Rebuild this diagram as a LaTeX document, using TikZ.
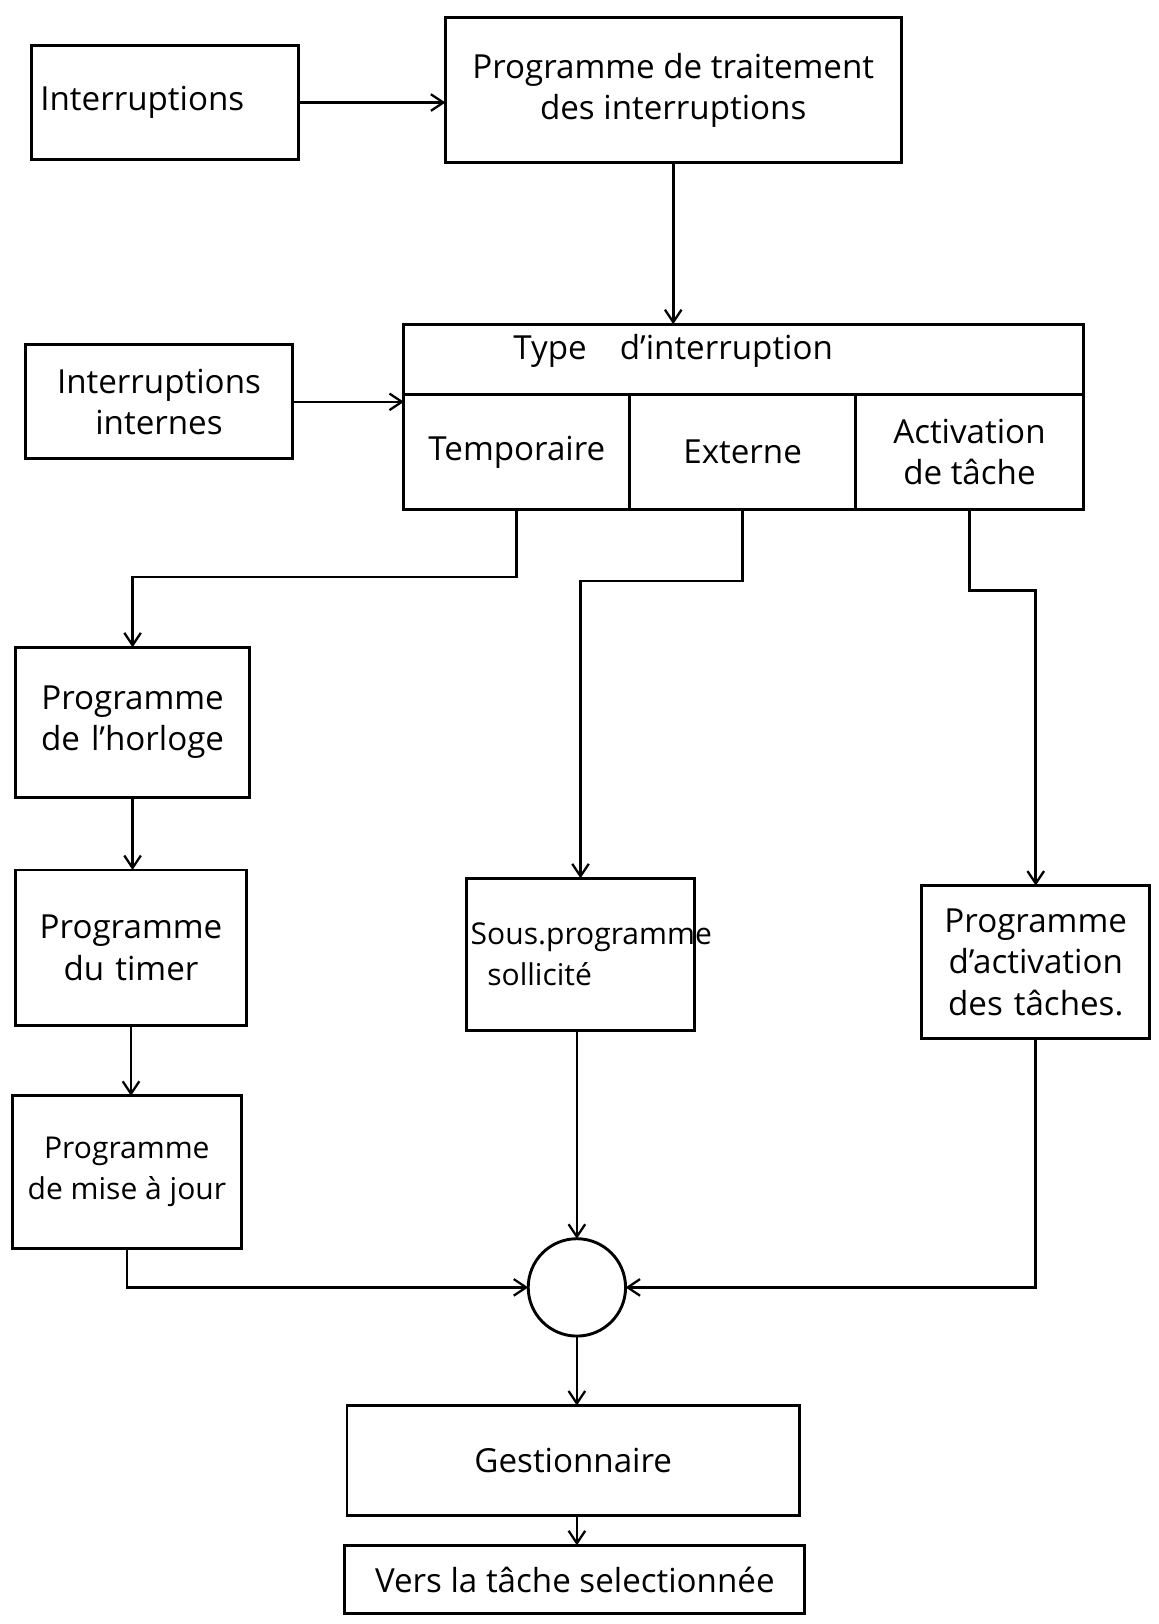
\documentclass[tikz,border=0pt]{standalone}
\usepackage{fontspec}
\setmainfont{Open Sans}
\usetikzlibrary{arrows.meta}
\begin{document}
\begin{tikzpicture}[x=0.5pt,y=-0.5pt,
  box/.style={draw, rectangle, line width=1.4pt, inner sep=2pt, outer sep=0pt, align=center,
              font=\fontsize{16}{20}\selectfont},
  txt/.style={inner sep=0pt, align=center, font=\fontsize{16}{20}\selectfont},
  arr/.style={line width=1.3pt, -{Straight Barb[length=6pt,width=8pt,line width=1.1pt]}}]
\useasboundingbox (0,0) rectangle (1119,1568);
\fill[white] (0,0) rectangle (1119,1568);

% boxes
\node[box, minimum width=129pt, minimum height=55pt, text width=120pt, align=left] (intr) at (159,99) {Interruptions};
\node[box, minimum width=220pt, minimum height=70pt] (ptrait) at (650,87) {Programme de traitement\\des interruptions};
\node[box, minimum width=128.5pt, minimum height=55pt] (internes) at (153.5,388) {Interruptions\\internes};

\node[box, minimum width=328pt, minimum height=34pt] (hdr) at (718,347) {};
\node[txt] (hdrt) at (650,339) {Type\quad d'interruption};
\node[box, minimum width=109pt, minimum height=55.5pt] (temp) at (499,436.5) {Temporaire};
\node[box, minimum width=109pt, minimum height=55.5pt] (ext) at (717,436.5) {Externe};
\node[box, minimum width=110pt, minimum height=55.5pt] (act) at (936,436.5) {Activation\\de tâche};

\node[box, minimum width=113pt, minimum height=72.5pt, text width=108pt] (horloge) at (128,697.5) {Programme\\de l'horloge};
\node[box, minimum width=111.5pt, minimum height=75pt, text width=106pt] (timer) at (126.5,915) {Programme\\du timer};
\node[box, minimum width=110.5pt, minimum height=73.5pt, inner sep=1pt, font=\fontsize{14.5}{20}\selectfont] (maj) at (122.5,1131.5) {Programme\\de mise à jour};
\node[box, minimum width=109.5pt, minimum height=73.5pt, text width=106pt, align=left, font=\fontsize{14.5}{20}\selectfont] (sous) at (560.5,921.5) {Sous.programme\\\hspace*{8pt}sollicité};
\node[box, minimum width=110pt, minimum height=74pt, text width=106pt] (pact) at (1000,929) {Programme\\d'activation\\des tâches.};

\node[draw, circle, line width=1.4pt, minimum size=47pt, inner sep=0pt, outer sep=0pt] (circ) at (557,1243) {};

\node[box, minimum width=218.5pt, minimum height=53pt] (gest) at (553.5,1410) {Gestionnaire};
\node[box, minimum width=222pt, minimum height=33pt] (vers) at (555,1525) {Vers la tâche selectionnée};

% connectors
\draw[arr] (intr.east) -- (intr.east -| ptrait.west);
\draw[arr] (ptrait.south) -- (ptrait.south |- hdr.north);
\draw[arr] (internes.east) -- (internes.east -| temp.west);

\draw[arr] (temp.south) -- ++(0,65) -| (horloge.north);
\draw[arr] (ext.south) -- ++(0,69) -| (sous.north);
\draw[arr] (act.south) -- ++(0,78) -| (pact.north);

\draw[arr] (horloge.south) -- (horloge.south |- timer.north);
\draw[arr] (timer.south) -- (timer.south |- maj.north);
\draw[arr] (maj.south) |- (circ.west);

\draw[arr] (circ.north |- sous.south) -- (circ.north);
\draw[arr] (pact.south) |- (circ.east);

\draw[arr] (circ.south) -- (circ.south |- gest.north);
\draw[arr] (circ.south |- gest.south) -- (circ.south |- vers.north);
\end{tikzpicture}
\end{document}
